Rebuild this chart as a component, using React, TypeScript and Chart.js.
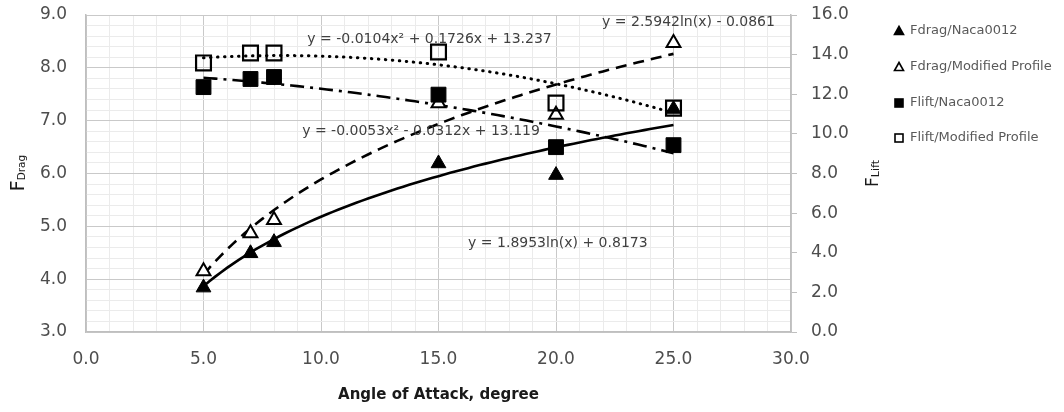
import React, { useEffect, useRef } from 'react';
import { Chart, registerables } from 'chart.js';

Chart.register(...registerables);

// ---- data ----
const angles = [5, 7, 8, 15, 20, 25];
const fdragNaca = [3.84, 4.49, 4.7, 6.19, 5.97, 7.22];
const fdragModified = [4.15, 4.87, 5.12, 7.33, 7.11, 8.47];
const fliftNaca = [12.36, 12.77, 12.87, 11.98, 9.33, 9.43];
const fliftModified = [13.58, 14.08, 14.08, 14.13, 11.56, 11.3];

const seriesNames = [
  'Fdrag/Naca0012',
  'Fdrag/Modified Profile',
  'Flift/Naca0012',
  'Flift/Modified Profile',
];

// trendline coefficients printed on the chart
const logFitDragNaca = [1.8953, 0.8173]; // y = a ln(x) + b
const logFitDragModified = [2.5942, -0.0861];
const polyFitLiftNaca = [-0.0053, -0.0312, 13.119]; // y = a x^2 + b x + c
const polyFitLiftModified = [-0.0104, 0.1726, 13.237];
const trendRange = [5, 25];

const equationTexts = [
  'y = -0.0104x² + 0.1726x + 13.237',
  'y = 2.5942ln(x) - 0.0861',
  'y = -0.0053x² - 0.0312x + 13.119',
  'y = 1.8953ln(x) + 0.8173',
];

const xAxisTitle = 'Angle of Attack, degree';
const leftTitle = ['F', 'Drag'];
const rightTitle = ['F', 'Lift'];

// ---- helpers ----
const FONT = '"DejaVu Sans", sans-serif';
const pts = (ys: number[]) => angles.map((x, i) => ({ x, y: ys[i] }));
const trendXs = (() => {
  const xs: number[] = [];
  for (let x = trendRange[0]; x <= trendRange[1] + 1e-9; x += 0.25) xs.push(x);
  return xs;
})();
const logCurve = (c: number[]) => trendXs.map((x) => ({ x, y: c[0] * Math.log(x) + c[1] }));
const polyCurve = (c: number[]) => trendXs.map((x) => ({ x, y: c[0] * x * x + c[1] * x + c[2] }));
const isWhole = (v: number, step: number) => Math.abs(v / step - Math.round(v / step)) < 1e-6;

const MAJOR = '#c9c9c9';
const MINOR = '#ebebeb';
const AXIS = '#bfbfbf';
const TICK_COLOR = '#4d4d4d';

// label anchors: [x value, left-axis value] (left edge, vertical middle)
const labelAnchors = [
  [9.42, 8.53],
  [21.96, 8.87],
  [9.2, 6.79],
  [16.26, 4.68],
];

const overlayPlugin = {
  id: 'overlay',
  afterDraw(chart: any) {
    const ctx = chart.ctx as CanvasRenderingContext2D;
    const xs = chart.scales.x;
    const yl = chart.scales.y;
    const area = chart.chartArea;
    ctx.save();

    // equation labels
    ctx.font = `14px ${FONT}`;
    ctx.fillStyle = '#404040';
    ctx.textAlign = 'left';
    ctx.textBaseline = 'middle';
    labelAnchors.forEach(([xv, yv], i) => {
      ctx.fillText(equationTexts[i], xs.getPixelForValue(xv), yl.getPixelForValue(yv));
    });

    // x axis title
    ctx.font = `bold 15px ${FONT}`;
    ctx.fillStyle = '#1a1a1a';
    ctx.textAlign = 'center';
    ctx.fillText(xAxisTitle, (area.left + area.right) / 2, 395);

    // rotated titles with subscripts
    const drawSub = (cx: number, cy: number, main: string, sub: string, mainSize: number, subSize: number) => {
      ctx.save();
      ctx.translate(cx, cy);
      ctx.rotate(-Math.PI / 2);
      ctx.textAlign = 'left';
      ctx.textBaseline = 'alphabetic';
      ctx.font = `${mainSize}px ${FONT}`;
      const wm = ctx.measureText(main).width;
      ctx.font = `${subSize}px ${FONT}`;
      const ws = ctx.measureText(sub).width;
      const start = -(wm + ws) / 2;
      ctx.fillStyle = '#1a1a1a';
      ctx.font = `${mainSize}px ${FONT}`;
      ctx.fillText(main, start, 0);
      ctx.font = `${subSize}px ${FONT}`;
      ctx.fillText(sub, start + wm, 1);
      ctx.restore();
    };
    drawSub(24, 173, leftTitle[0], leftTitle[1], 19, 10.5);
    drawSub(878, 173.5, rightTitle[0], rightTitle[1], 17, 11);

    // legend
    const rows = [31, 67, 103, 138];
    const mx = 899;
    ctx.font = `13px ${FONT}`;
    ctx.textAlign = 'left';
    ctx.textBaseline = 'middle';
    seriesNames.forEach((name, i) => {
      const y = rows[i];
      ctx.lineWidth = 1.6;
      ctx.strokeStyle = '#000';
      if (i < 2) {
        ctx.beginPath();
        ctx.moveTo(mx, y - 4.5);
        ctx.lineTo(mx + 4.5, y + 3.5);
        ctx.lineTo(mx - 4.5, y + 3.5);
        ctx.closePath();
        ctx.fillStyle = i === 0 ? '#000' : '#fff';
        ctx.fill();
        ctx.stroke();
      } else {
        ctx.fillStyle = i === 2 ? '#000' : '#fff';
        ctx.fillRect(mx - 4, y - 4, 8, 8);
        ctx.strokeRect(mx - 4, y - 4, 8, 8);
      }
      ctx.fillStyle = '#595959';
      ctx.fillText(name, 910, y);
    });

    ctx.restore();
  },
};

export default function App() {
  const ref = useRef<HTMLCanvasElement>(null);

  useEffect(() => {
    if (!ref.current) return;
    const tickFont = { family: FONT, size: 17 };
    const chart = new Chart(ref.current, {
      type: 'scatter',
      data: {
        datasets: [
          {
            label: seriesNames[0],
            data: pts(fdragNaca),
            yAxisID: 'y',
            pointStyle: 'triangle',
            pointRadius: 8.5,
            backgroundColor: '#000',
            borderColor: '#000',
            borderWidth: 1,
            order: 4,
          },
          {
            label: seriesNames[1],
            data: pts(fdragModified),
            yAxisID: 'y',
            pointStyle: 'triangle',
            pointRadius: 8,
            backgroundColor: '#fff',
            borderColor: '#000',
            borderWidth: 2,
            order: 3,
          },
          {
            label: seriesNames[2],
            data: pts(fliftNaca),
            yAxisID: 'y1',
            pointStyle: 'rect',
            pointRadius: 10.5,
            backgroundColor: '#000',
            borderColor: '#000',
            borderWidth: 1,
            order: 2,
          },
          {
            label: seriesNames[3],
            data: pts(fliftModified),
            yAxisID: 'y1',
            pointStyle: 'rect',
            pointRadius: 10.5,
            backgroundColor: 'rgba(255,255,255,0)',
            borderColor: '#000',
            borderWidth: 2.2,
            order: 1,
          },
          {
            label: 'trend drag naca',
            data: logCurve(logFitDragNaca),
            yAxisID: 'y',
            showLine: true,
            pointRadius: 0,
            borderColor: '#000',
            borderWidth: 2.6,
            order: 5,
          },
          {
            label: 'trend drag modified',
            data: logCurve(logFitDragModified),
            yAxisID: 'y',
            showLine: true,
            pointRadius: 0,
            borderColor: '#000',
            borderWidth: 2.6,
            borderDash: [11, 7],
            order: 5,
          },
          {
            label: 'trend lift naca',
            data: polyCurve(polyFitLiftNaca),
            yAxisID: 'y1',
            showLine: true,
            pointRadius: 0,
            borderColor: '#000',
            borderWidth: 2.6,
            borderDash: [14, 6, 3, 6],
            order: 5,
          },
          {
            label: 'trend lift modified',
            data: polyCurve(polyFitLiftModified),
            yAxisID: 'y1',
            showLine: true,
            pointRadius: 0,
            borderColor: '#000',
            borderWidth: 3,
            borderDash: [0.5, 6.5],
            borderCapStyle: 'round',
            order: 5,
          },
        ] as any,
      },
      options: {
        responsive: false,
        devicePixelRatio: 1,
        animation: false,
        layout: { padding: { left: 0, top: 15, right: 193, bottom: 0 } },
        plugins: { legend: { display: false }, tooltip: { enabled: false } },
        scales: {
          x: {
            type: 'linear',
            position: 'bottom',
            min: 0,
            max: 30,
            afterFit: (s: any) => {
              s.height = 80;
              s.paddingLeft = 0;
              s.paddingRight = 0;
            },
            ticks: {
              stepSize: 1,
              autoSkip: false,
              maxRotation: 0,
              padding: 17,
              color: TICK_COLOR,
              font: tickFont,
              callback: (v: any) => (isWhole(Number(v), 5) ? Number(v).toFixed(1) : ''),
            },
            grid: {
              drawTicks: false,
              color: (c: any) => (c.tick && isWhole(c.tick.value, 5) ? MAJOR : MINOR),
              lineWidth: 1,
            },
            border: { color: AXIS, width: 1.5 },
          },
          y: {
            type: 'linear',
            position: 'left',
            min: 3,
            max: 9,
            afterFit: (s: any) => {
              s.width = 86;
              s.paddingTop = 0;
              s.paddingBottom = 0;
            },
            ticks: {
              stepSize: 0.2,
              maxTicksLimit: 100,
              autoSkip: false,
              padding: 19,
              color: TICK_COLOR,
              font: tickFont,
              callback: (v: any) => (isWhole(Number(v), 1) ? Number(v).toFixed(1) : ''),
            },
            grid: {
              drawTicks: false,
              color: (c: any) => (c.tick && isWhole(c.tick.value, 1) ? MAJOR : MINOR),
              lineWidth: 1,
            },
            border: { color: AXIS, width: 1.5 },
          },
          y1: {
            type: 'linear',
            position: 'right',
            min: 0,
            max: 16,
            afterFit: (s: any) => {
              s.width = 80;
              s.paddingTop = 0;
              s.paddingBottom = 0;
            },
            ticks: {
              stepSize: 2,
              padding: 14,
              color: TICK_COLOR,
              font: tickFont,
              callback: (v: any) => Number(v).toFixed(1),
            },
            grid: {
              drawOnChartArea: false,
              drawTicks: true,
              tickLength: 6,
              tickColor: AXIS,
              color: AXIS,
            },
            border: { color: AXIS, width: 1.5 },
          },
        },
      } as any,
      plugins: [overlayPlugin],
    });
    return () => chart.destroy();
  }, []);

  return (
    <div style={{ position: 'absolute', left: 0, top: 0, width: 1064, height: 412, background: '#fff' }}>
      <canvas ref={ref} width={1064} height={412} style={{ display: 'block', width: 1064, height: 412 }} />
    </div>
  );
}
